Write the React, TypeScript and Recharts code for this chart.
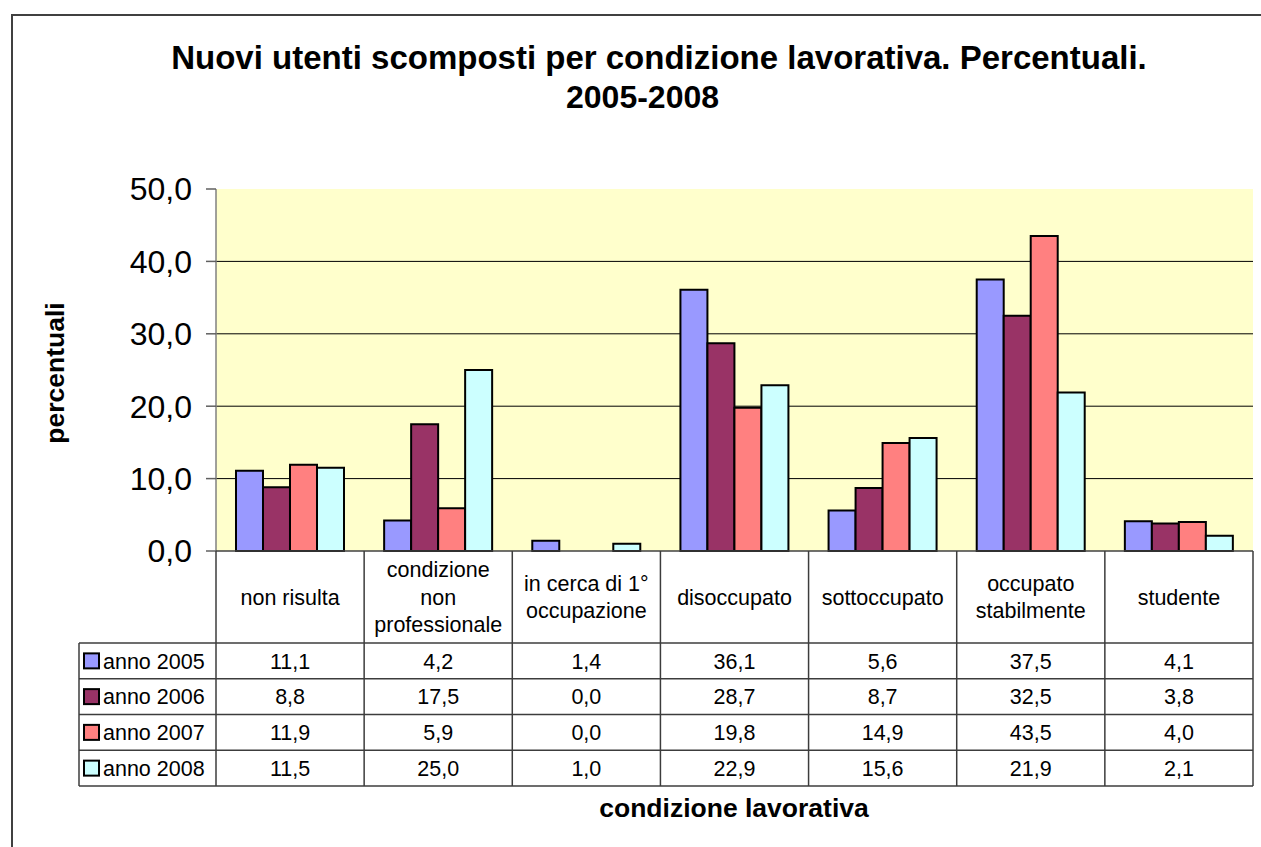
import React from 'react';
import { BarChart, Bar, XAxis, YAxis, CartesianGrid } from 'recharts';

// ---------- data ----------
const categories = [
  'non risulta',
  'condizione\nnon\nprofessionale',
  'in cerca di 1°\noccupazione',
  'disoccupato',
  'sottoccupato',
  'occupato\nstabilmente',
  'studente',
];
const seriesNames = ['anno 2005', 'anno 2006', 'anno 2007', 'anno 2008'];
const anno2005 = [11.1, 4.2, 1.4, 36.1, 5.6, 37.5, 4.1];
const anno2006 = [8.8, 17.5, 0.0, 28.7, 8.7, 32.5, 3.8];
const anno2007 = [11.9, 5.9, 0.0, 19.8, 14.9, 43.5, 4.0];
const anno2008 = [11.5, 25.0, 1.0, 22.9, 15.6, 21.9, 2.1];
const seriesColors = ['#9999FF', '#993366', '#FF8080', '#CCFFFF'];
const yTicks = [0, 10, 20, 30, 40, 50];
const gridValues = [10, 20, 30, 40];

const seriesValues = [anno2005, anno2006, anno2007, anno2008];
const seriesKeys = ['s2005', 's2006', 's2007', 's2008'];
const data = categories.map((name, i) => {
  const row: Record<string, any> = { name };
  seriesKeys.forEach((k, s) => {
    row[k] = seriesValues[s][i];
  });
  return row;
});

// ---------- layout ----------
const CHART_W = 1261;
const CHART_H = 847;
const PLOT_LEFT = 216;
const PLOT_RIGHT = 1253;
const PLOT_TOP = 189;
const PLOT_BOTTOM = 551;
const Y_AXIS_W = 80;
const X_AXIS_H = 240;
const HEADER_H = 92;
const ROW_H = 35.75;
const TABLE_LEFT = 79;
const FONT = "Arial, 'Liberation Sans', sans-serif";
const TABLE_FS = 21.5;
const LINE_COLOR = '#3c3c3c';

const fmt = (v: number) => v.toFixed(1).replace('.', ',');

function TableTick(props: any) {
  const { x, y, payload } = props;
  const i: number = payload.index;
  const n = categories.length;
  const bw = (PLOT_RIGHT - PLOT_LEFT) / n;
  const left = x - bw / 2;
  const rowsTop = y + HEADER_H;
  const bottom = rowsTop + ROW_H * seriesValues.length;
  const lines = String(payload.value).split('\n');
  const headerMid = y + HEADER_H / 2;
  const lh = 27.5;
  const els: React.ReactNode[] = [];

  els.push(
    <line key="vr" x1={left + bw} y1={y} x2={left + bw} y2={bottom} stroke={LINE_COLOR} strokeWidth={1.5} />
  );
  if (i === 0) {
    els.push(<line key="vl" x1={left} y1={y} x2={left} y2={bottom} stroke={LINE_COLOR} strokeWidth={1.5} />);
    els.push(
      <line key="tl" x1={TABLE_LEFT} y1={rowsTop} x2={TABLE_LEFT} y2={bottom} stroke={LINE_COLOR} strokeWidth={1.5} />
    );
    for (let r = 0; r <= seriesValues.length; r++) {
      const yy = rowsTop + r * ROW_H;
      els.push(
        <line key={'h' + r} x1={TABLE_LEFT} y1={yy} x2={left + n * bw} y2={yy} stroke={LINE_COLOR} strokeWidth={1.5} />
      );
    }
    seriesNames.forEach((nm, s) => {
      const cy = rowsTop + (s + 0.5) * ROW_H;
      els.push(
        <rect key={'sw' + s} x={84} y={cy - 7.5} width={15} height={15} fill={seriesColors[s]} stroke="#000" strokeWidth={2} />
      );
      els.push(
        <text key={'sn' + s} x={103} y={cy + 0.355 * TABLE_FS} fontSize={TABLE_FS} fontFamily={FONT} fill="#000">
          {nm}
        </text>
      );
    });
  }

  lines.forEach((ln, k) => {
    const cy = headerMid + (k - (lines.length - 1) / 2) * lh;
    els.push(
      <text key={'hd' + k} x={x} y={cy + 0.355 * TABLE_FS} textAnchor="middle" fontSize={TABLE_FS} fontFamily={FONT} fill="#000">
        {ln}
      </text>
    );
  });

  seriesValues.forEach((vals, s) => {
    const cy = rowsTop + (s + 0.5) * ROW_H;
    els.push(
      <text key={'v' + s} x={x} y={cy + 0.355 * TABLE_FS} textAnchor="middle" fontSize={TABLE_FS} fontFamily={FONT} fill="#000">
        {fmt(vals[i])}
      </text>
    );
  });

  return <g>{els}</g>;
}

export default function App() {
  return (
    <div
      style={{
        position: 'absolute',
        left: 0,
        top: 0,
        width: CHART_W,
        height: CHART_H,
        overflow: 'hidden',
        background: '#fff',
        fontFamily: FONT,
      }}
    >
      <div
        style={{
          position: 'absolute',
          left: 11,
          top: 14,
          width: CHART_W + 40,
          height: CHART_H + 40,
          borderLeft: '2px solid #404040',
          borderTop: '2px solid #404040',
          boxSizing: 'border-box',
        }}
      />
      <div
        style={{
          position: 'absolute',
          left: 659 - 600,
          top: 39,
          width: 1200,
          textAlign: 'center',
          fontSize: 33,
          lineHeight: '38px',
          fontWeight: 'bold',
          color: '#000',
          whiteSpace: 'nowrap',
        }}
      >
        Nuovi utenti scomposti per condizione lavorativa. Percentuali.
      </div>
      <div
        style={{
          position: 'absolute',
          left: 642.5 - 300,
          top: 78,
          width: 600,
          textAlign: 'center',
          fontSize: 32,
          lineHeight: '38px',
          fontWeight: 'bold',
          color: '#000',
          whiteSpace: 'nowrap',
        }}
      >
        2005-2008
      </div>
      <div
        style={{
          position: 'absolute',
          left: 55 - 150,
          top: 373 - 16,
          width: 300,
          height: 32,
          lineHeight: '32px',
          textAlign: 'center',
          fontSize: 26.5,
          fontWeight: 'bold',
          color: '#000',
          transform: 'rotate(-90deg)',
          transformOrigin: '150px 16px',
          whiteSpace: 'nowrap',
        }}
      >
        percentuali
      </div>
      <div
        style={{
          position: 'absolute',
          left: 734 - 300,
          top: 792,
          width: 600,
          lineHeight: '32px',
          textAlign: 'center',
          fontSize: 26.5,
          fontWeight: 'bold',
          color: '#000',
          whiteSpace: 'nowrap',
        }}
      >
        condizione lavorativa
      </div>
      <div style={{ position: 'absolute', left: 0, top: 0 }}>
        <BarChart
          width={CHART_W}
          height={CHART_H}
          data={data}
          margin={{
            top: PLOT_TOP,
            right: CHART_W - PLOT_RIGHT,
            left: PLOT_LEFT - Y_AXIS_W,
            bottom: CHART_H - PLOT_BOTTOM - X_AXIS_H,
          }}
          barCategoryGap="13.5%"
          barGap={0}
        >
          <CartesianGrid
            vertical={false}
            horizontalValues={gridValues}
            stroke="#000"
            strokeWidth={1}
            fill="#FFFFCC"
            fillOpacity={1}
          />
          <YAxis
            width={Y_AXIS_W}
            domain={[0, 50]}
            ticks={yTicks}
            interval={0}
            tickFormatter={fmt}
            tick={{ fontSize: 32, fill: '#000', fontFamily: FONT }}
            tickSize={10}
            tickMargin={14}
            axisLine={{ stroke: '#808080', strokeWidth: 1.5 }}
            tickLine={{ stroke: '#606060', strokeWidth: 1.5 }}
          />
          <XAxis
            dataKey="name"
            height={X_AXIS_H}
            interval={0}
            tickLine={false}
            tickSize={0}
            tickMargin={0}
            axisLine={{ stroke: '#404040', strokeWidth: 1.5 }}
            tick={<TableTick />}
          />
          {seriesKeys.map((k, s) => (
            <Bar
              key={k}
              dataKey={k}
              name={seriesNames[s]}
              fill={seriesColors[s]}
              stroke="#000"
              strokeWidth={2}
              isAnimationActive={false}
            />
          ))}
        </BarChart>
      </div>
    </div>
  );
}
